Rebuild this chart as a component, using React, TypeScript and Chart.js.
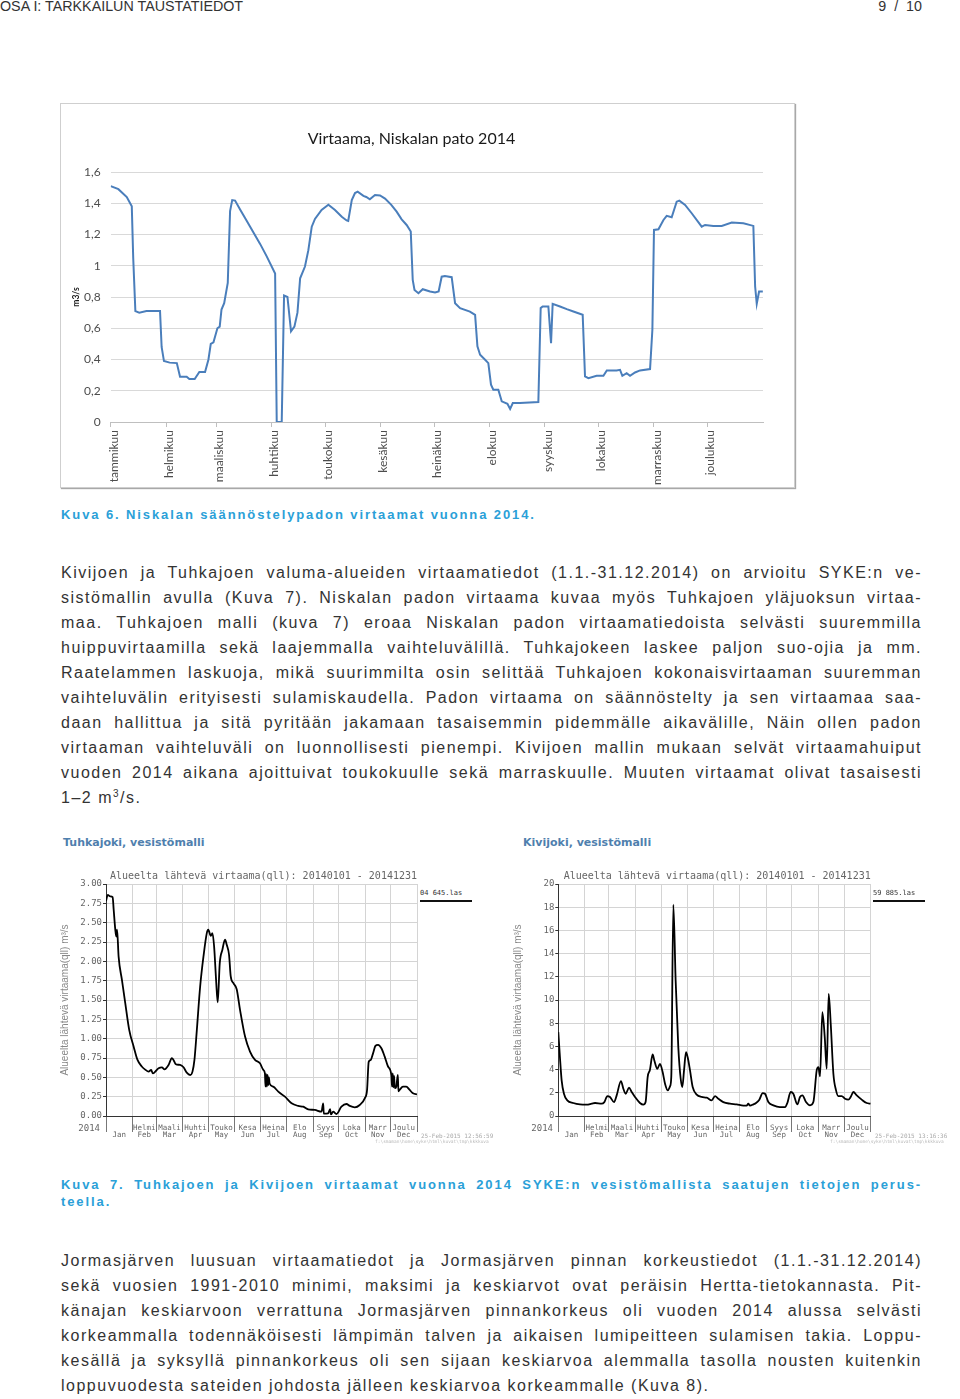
import React, { useEffect, useRef } from "react";
import { Chart, registerables } from "chart.js";

Chart.register(...registerables);

// ---------------- data: main chart (Niskala) ----------------
const NISKALA_TITLE = "Virtaama, Niskalan pato 2014";
const NISKALA_Y_TITLE = "m3/s";
const MONTHS_FI = ["tammikuu", "helmikuu", "maaliskuu", "huhtikuu", "toukokuu", "kesäkuu", "heinäkuu", "elokuu", "syyskuu", "lokakuu", "marraskuu", "joulukuu"];
const MONTH_START_DAY = [0, 31, 59, 90, 120, 151, 181, 212, 243, 273, 304, 334];

const niskalaDay = [
  0, 4.3, 9, 11.8, 12.6, 13.8, 16, 20, 27.6, 28.5,
  29.8, 33, 37, 38.8, 42.5, 44, 47, 49.6, 52.8, 54.7,
  56, 57.5, 59.7, 61, 62, 63.5, 65.5, 66.8, 68, 69.6,
  72.4, 76, 83.6, 87.3, 92, 92.9, 95.7, 97, 98.9, 100.9,
  102.8, 104.5, 106, 108.7, 110.6, 112.5, 114.3, 118, 121.8, 125.5,
  129.3, 132, 132.9, 134.9, 136.7, 138.2, 141.4, 143, 145, 147.9,
  150.7, 153.5, 157, 160, 162.8, 165.6, 167.9, 169, 170, 172.2,
  174.6, 178.7, 181.5, 183.5, 185.2, 187, 190.8, 192.7, 195.5, 201,
  203.9, 205.2, 206.7, 209.5, 211.3, 212.8, 214.1, 216.9, 218.8, 222,
  223.5, 225, 229, 239.3, 240.6, 241.7, 244.9, 246.4, 247.3, 251.4,
  255.2, 258.9, 264.1, 265.4, 267.3, 271.9, 275.7, 277.6, 283.1, 285,
  286.3, 288.7, 290.6, 293.4, 296.2, 301.8, 303.1, 304, 306.5, 309.3,
  311.1, 313.9, 316.7, 318.2, 321.4, 325.1, 330.7, 332.6, 337.2, 341.9,
  347.5, 354, 359.6, 360.6, 361.5, 362.8, 364.9,
];
const niskalaFlow = [
  1.51, 1.49, 1.44, 1.38, 1.05, 0.71, 0.70, 0.71, 0.71, 0.48,
  0.39, 0.38, 0.377, 0.29, 0.29, 0.275, 0.275, 0.32, 0.32, 0.40,
  0.50, 0.51, 0.60, 0.61, 0.72, 0.76, 0.89, 1.35, 1.42, 1.417,
  1.36, 1.29, 1.14, 1.06, 0.95, 0, 0, 0.81, 0.80, 0.58,
  0.61, 0.70, 0.92, 0.995, 1.10, 1.25, 1.30, 1.357, 1.39, 1.357,
  1.314, 1.29, 1.287, 1.42, 1.465, 1.474, 1.447, 1.44, 1.425, 1.453,
  1.45, 1.43, 1.39, 1.346, 1.297, 1.261, 1.219, 0.91, 0.845, 0.824,
  0.85, 0.835, 0.829, 0.835, 0.93, 0.935, 0.927, 0.76, 0.729, 0.707,
  0.686, 0.484, 0.43, 0.398, 0.377, 0.239, 0.207, 0.207, 0.132, 0.117,
  0.083, 0.121, 0.121, 0.128, 0.729, 0.739, 0.739, 0.505, 0.756, 0.739,
  0.722, 0.707, 0.686, 0.292, 0.281, 0.296, 0.296, 0.33, 0.33, 0.334,
  0.296, 0.313, 0.296, 0.317, 0.33, 0.339, 0.59, 1.229, 1.233, 1.293,
  1.319, 1.31, 1.41, 1.417, 1.389, 1.336, 1.25, 1.261, 1.255, 1.255,
  1.276, 1.272, 1.255, 0.867, 0.756, 0.835, 0.835,
];

// ---------------- data: SYKE model charts ----------------
const SYKE_TITLE = "Alueelta lähtevä virtaama(qll): 20140101 - 20141231";
const SYKE_Y_TITLE = "Alueelta lähtevä virtaama(qll) m³/s";
const SYKE_MONTH_FI = ["", "Helmi", "Maali", "Huhti", "Touko", "Kesa", "Heina", "Elo", "Syys", "Loka", "Marr", "Joulu"];
const SYKE_MONTH_EN = ["Jan", "Feb", "Mar", "Apr", "May", "Jun", "Jul", "Aug", "Sep", "Oct", "Nov", "Dec"];
const MID_MONTH_DAY = [15.5, 45, 74.5, 105, 135.5, 166, 196.5, 227.5, 258, 288.5, 319, 349.5];
const YEAR_END_DAY = 365;

const tuhkaDay = [
  0, 2, 5, 7.8, 9, 10.9, 12.1, 13, 14.8, 18.7,
  22.6, 27.3, 32.4, 37, 42, 46, 50, 53, 55, 57.8,
  61.7, 65.6, 68.7, 73.4, 77.3, 79.2, 82, 87, 91, 94.8,
  98.8, 101.5, 103.8, 106.6, 110.5, 114.4, 118.3, 120, 123, 124.9,
  126.9, 129.2, 131.1, 133.5, 136.6, 139.7, 141.7, 144.4, 146.4, 149.5,
  153.4, 157.3, 163.2, 169, 174.9, 180.7, 184.6, 186.5, 187.2, 188,
  188.8, 189.6, 190.4, 191.2, 192, 196.3, 202.2, 210, 217.8, 225.6,
  231.5, 237.3, 245.1, 252.9, 254.9, 255.6, 260.7, 263, 264, 266.6,
  270.5, 276.3, 282.2, 286.1, 292, 297.8, 303.7, 306.4, 308.3, 310.7,
  313.4, 316.2, 319.3, 323.2, 327.1, 331, 334.9, 335.7, 336.5, 337.3,
  338.1, 339, 340.7, 342.5, 343.2, 344.6, 348.5, 352.4, 356.4, 360.3,
  365,
];
const tuhkaFlow = [
  2.78, 2.86, 2.84, 2.83, 2.67, 2.41, 2.32, 2.41, 2.06, 1.76,
  1.46, 1.11, 0.90, 0.725, 0.64, 0.60, 0.574, 0.596, 0.55, 0.574,
  0.617, 0.63, 0.604, 0.66, 0.747, 0.725, 0.67, 0.66, 0.63, 0.56,
  0.53, 0.574, 0.725, 1.11, 1.675, 2.063, 2.365, 2.41, 2.33, 2.365,
  2.19, 1.76, 1.468, 1.977, 2.15, 2.28, 2.214, 2.085, 1.804, 1.718,
  1.64, 1.373, 1.027, 0.833, 0.725, 0.682, 0.596, 0.55, 0.38, 0.54,
  0.38, 0.53, 0.40, 0.50, 0.42, 0.38, 0.315, 0.25, 0.164, 0.13,
  0.12, 0.086, 0.078, 0.056, 0.164, 0.03, 0.035, 0.09, 0.02, 0.056,
  0.026, 0.12, 0.155, 0.13, 0.112, 0.142, 0.229, 0.337, 0.70, 0.725,
  0.81, 0.906, 0.92, 0.876, 0.768, 0.64, 0.53, 0.38, 0.55, 0.37,
  0.52, 0.36, 0.38, 0.53, 0.32, 0.337, 0.38, 0.38, 0.337, 0.293,
  0.28,
];

const kiviDay = [
  0, 1.9, 3.9, 6.6, 10.5, 17.5, 25.3, 33.1, 39, 42.9,
  50.6, 53.8, 57.3, 60.4, 65.1, 68.2, 73.2, 76, 78.7, 82.6,
  85.7, 89.6, 95.4, 99.3, 102, 104.4, 107.1, 110.2, 112.2, 115.7,
  118.8, 121.9, 124.7, 127.8, 130.5, 132, 134.4, 137.1, 140.2, 143,
  144.9, 146.9, 149.2, 151.1, 153.9, 157, 161.7, 167.5, 173.4, 179.2,
  183.1, 187, 192.8, 200.6, 208.4, 216.2, 220, 222, 224, 227.9,
  231, 234.9, 238.8, 241.5, 245.4, 251.3, 259, 264.9, 267.6, 271.5,
  274.6, 279.3, 282.4, 285.2, 289.4, 294.1, 298, 301.9, 303.9, 305.8,
  308.5, 311.3, 313.6, 315.9, 318.3, 321.4, 324.5, 327.2, 331.1, 335,
  338.9, 341.6, 344.8, 348.7, 354.5, 360.3, 365,
];
const kiviFlow = [
  7.23, 5.08, 3.07, 1.92, 1.35, 1.12, 1.0, 0.98, 1.06, 1.12,
  1.06, 1.2, 1.72, 1.64, 1.2, 1.78, 3.01, 2.35, 1.92, 2.44,
  2.07, 1.64, 1.12, 0.98, 1.2, 3.36, 3.99, 5.31, 4.79, 4.07,
  4.5, 3.79, 2.78, 2.21, 2.55, 3.36, 18.22, 11.68, 5.94, 3.21,
  2.5, 3.93, 5.51, 5.08, 3.93, 2.5, 1.84, 1.64, 1.58, 1.35,
  1.72, 1.49, 1.2, 1.06, 1.0, 0.89, 0.89, 1.06, 0.89, 1.0,
  1.12, 1.41, 1.98, 1.92, 1.2, 0.92, 0.77, 0.77, 1.12, 2.07,
  1.92, 1.0, 1.64, 1.78, 1.2, 0.92, 1.2, 3.93, 4.22, 3.41,
  8.95, 6.8, 4.07, 10.53, 7.95, 3.64, 2.21, 1.72, 1.72, 1.49,
  1.41, 1.64, 2.07, 1.78, 1.41, 1.12, 1.06,
];

// ---------------- texts ----------------
const HEADER_LEFT = "OSA I: TARKKAILUN TAUSTATIEDOT";
const HEADER_RIGHT = "9 / 10";
const CAPTION_6 = "Kuva 6. Niskalan säännöstelypadon virtaamat vuonna 2014.";
const PARA_1 = [
  "Kivijoen ja Tuhkajoen valuma-alueiden virtaamatiedot (1.1.-31.12.2014) on arvioitu SYKE:n ve-",
  "sistömallin avulla (Kuva 7). Niskalan padon virtaama kuvaa myös Tuhkajoen yläjuoksun virtaa-",
  "maa. Tuhkajoen malli (kuva 7) eroaa Niskalan padon virtaamatiedoista selvästi suuremmilla",
  "huippuvirtaamilla sekä laajemmalla vaihteluvälillä. Tuhkajokeen laskee paljon suo-ojia ja mm.",
  "Raatelammen laskuoja, mikä suurimmilta osin selittää Tuhkajoen kokonaisvirtaaman suuremman",
  "vaihteluvälin erityisesti sulamiskaudella. Padon virtaama on säännöstelty ja sen virtaamaa saa-",
  "daan hallittua ja sitä pyritään jakamaan tasaisemmin pidemmälle aikavälille, Näin ollen padon",
  "virtaaman vaihteluväli on luonnollisesti pienempi. Kivijoen mallin mukaan selvät virtaamahuiput",
  "vuoden 2014 aikana ajoittuivat toukokuulle sekä marraskuulle. Muuten virtaamat olivat tasaisesti",
];
const CAPTION_7 = [
  "Kuva 7. Tuhkajoen ja Kivijoen virtaamat vuonna 2014 SYKE:n vesistömallista saatujen tietojen perus-",
  "teella.",
];
const PARA_2 = [
  "Jormasjärven luusuan virtaamatiedot ja Jormasjärven pinnan korkeustiedot (1.1.-31.12.2014)",
  "sekä vuosien 1991-2010 minimi, maksimi ja keskiarvot ovat peräisin Hertta-tietokannasta. Pit-",
  "känajan keskiarvoon verrattuna Jormasjärven pinnankorkeus oli vuoden 2014 alussa selvästi",
  "korkeammalla todennäköisesti lämpimän talven ja aikaisen lumipeitteen sulamisen takia. Loppu-",
  "kesällä ja syksyllä pinnankorkeus oli sen sijaan keskiarvoa alemmalla tasolla nousten kuitenkin",
  "loppuvuodesta sateiden johdosta jälleen keskiarvoa korkeammalle (Kuva 8).",
];

// ---------------- helpers ----------------
const toPoints = (xs: number[], ys: number[]) => xs.map((x, i) => ({ x, y: ys[i] }));

const SYKE_TICKS: { value: number; boundary: boolean; label: string[] }[] = (() => {
  const out: { value: number; boundary: boolean; label: string[] }[] = [];
  for (let m = 0; m < 12; m++) {
    out.push({ value: MONTH_START_DAY[m], boundary: true, label: [""] });
    out.push({ value: MID_MONTH_DAY[m], boundary: false, label: [SYKE_MONTH_FI[m], SYKE_MONTH_EN[m]] });
  }
  out.push({ value: YEAR_END_DAY, boundary: true, label: [""] });
  return out;
})();

const abs = (left: number, top: number, extra: React.CSSProperties = {}): React.CSSProperties => ({
  position: "absolute",
  left,
  top,
  margin: 0,
  ...extra,
});

// ---------------- main chart ----------------
function NiskalaChart() {
  const ref = useRef<HTMLCanvasElement>(null);
  useEffect(() => {
    const chart = new Chart(ref.current!, {
      type: "line",
      data: {
        datasets: [
          {
            data: toPoints(niskalaDay, niskalaFlow),
            borderColor: "#4a7ebb",
            borderWidth: 2,
            pointRadius: 0,
            tension: 0,
            fill: false,
          },
        ],
      },
      options: {
        animation: false,
        responsive: false,
        maintainAspectRatio: false,
        layout: { padding: { left: 0, right: 32, top: 0, bottom: 0 } },
        plugins: {
          legend: { display: false },
          tooltip: { enabled: false },
          title: {
            display: true,
            text: NISKALA_TITLE,
            color: "#1a1a1a",
            font: { family: "Lato", size: 16, weight: "normal" },
            padding: { top: 26, bottom: 23.8 },
          },
        },
        scales: {
          x: {
            type: "linear",
            min: 0,
            max: YEAR_END_DAY,
            afterBuildTicks: (s: any) => {
              s.ticks = MONTH_START_DAY.map((v) => ({ value: v }));
            },
            afterFit: (s: any) => {
              s.height = 66;
            },
            ticks: {
              autoSkip: false,
              minRotation: 90,
              maxRotation: 90,
              labelOffset: 3,
              padding: 3,
              color: "#4d4d4d",
              font: { family: "Lato", size: 12 },
              callback: (_v: any, i: number) => MONTHS_FI[i],
            },
            grid: { drawOnChartArea: false, drawTicks: true, tickLength: 5, tickColor: "#bfbfbf" },
            border: { display: true, color: "#bfbfbf", width: 1 },
          },
          y: {
            min: 0,
            max: 1.6,
            afterFit: (s: any) => {
              s.width = 50.7;
            },
            ticks: {
              stepSize: 0.2,
              padding: 10,
              color: "#4d4d4d",
              font: { family: "Lato", size: 12 },
              callback: (v: any) => String(Math.round(Number(v) * 10) / 10).replace(".", ","),
            },
            grid: { color: "#d9d9d9", drawTicks: false, lineWidth: 1 },
            border: { display: false },
            title: {
              display: true,
              text: NISKALA_Y_TITLE,
              color: "#1a1a1a",
              font: { family: "Lato", size: 8.5, weight: "bold" },
              padding: { top: 11, bottom: 0 },
            },
          },
        },
      },
    } as any);
    return () => chart.destroy();
  }, []);
  return <canvas ref={ref} width={735} height={385} style={abs(60, 103, { width: 735, height: 385 })} />;
}

// ---------------- SYKE charts ----------------
type SykeProps = {
  left: number;
  top: number;
  width: number;
  height: number;
  yAxisWidth: number;
  rightPad: number;
  yTitlePad: number;
  days: number[];
  flow: number[];
  yMax: number;
  yStep: number;
  decimals: number;
};

function SykeChart(p: SykeProps) {
  const ref = useRef<HTMLCanvasElement>(null);
  useEffect(() => {
    const chart = new Chart(ref.current!, {
      type: "line",
      data: {
        datasets: [
          {
            data: toPoints(p.days, p.flow),
            borderColor: "#000",
            borderWidth: 1.8,
            pointRadius: 0,
            cubicInterpolationMode: "monotone",
            fill: false,
          },
        ],
      },
      options: {
        animation: false,
        responsive: false,
        maintainAspectRatio: false,
        layout: { padding: { left: 0, right: p.rightPad, top: 0, bottom: 0 } },
        plugins: {
          legend: { display: false },
          tooltip: { enabled: false },
          title: {
            display: true,
            text: SYKE_TITLE,
            align: "end",
            color: "#666",
            font: { family: "DejaVu Sans Mono", size: 10, weight: "normal", lineHeight: 1.2 },
            padding: { top: 8.7, bottom: 1.3 },
          },
        },
        scales: {
          x: {
            type: "linear",
            min: 0,
            max: YEAR_END_DAY,
            afterBuildTicks: (s: any) => {
              s.ticks = SYKE_TICKS.map((t) => ({ value: t.value }));
            },
            afterFit: (s: any) => {
              s.height = 31;
            },
            ticks: {
              autoSkip: false,
              minRotation: 0,
              maxRotation: 0,
              padding: -8,
              color: "#666",
              font: { family: "DejaVu Sans Mono", size: 7.5, lineHeight: 0.97 },
              callback: (_v: any, i: number) => SYKE_TICKS[i].label,
            },
            grid: {
              color: (c: any) => (SYKE_TICKS[c.index] && SYKE_TICKS[c.index].boundary ? "#d4d4d4" : "rgba(0,0,0,0)"),
              tickColor: (c: any) => (SYKE_TICKS[c.index] && SYKE_TICKS[c.index].boundary ? "#777" : "rgba(0,0,0,0)"),
              tickLength: 16,
              lineWidth: 1,
            },
            border: { display: true, color: "#333", width: 1 },
          },
          y: {
            min: 0,
            max: p.yMax,
            afterFit: (s: any) => {
              s.width = p.yAxisWidth;
            },
            ticks: {
              stepSize: p.yStep,
              padding: 1,
              color: "#666",
              font: { family: "DejaVu Sans Mono", size: 9 },
              callback: (v: any) => Number(v).toFixed(p.decimals),
            },
            grid: { color: "#d4d4d4", tickColor: "#333", tickLength: 3, lineWidth: 1 },
            border: { display: true, color: "#333", width: 1 },
            title: {
              display: true,
              text: SYKE_Y_TITLE,
              color: "#888",
              font: { family: "Liberation Sans", size: 10, weight: "normal" },
              padding: { top: p.yTitlePad, bottom: 0 },
            },
          },
        },
      },
    } as any);
    return () => chart.destroy();
  }, []);
  return (
    <canvas
      ref={ref}
      width={p.width}
      height={p.height}
      style={abs(p.left, p.top, { width: p.width, height: p.height })}
    />
  );
}

// ---------------- text blocks ----------------
const bodyFont: React.CSSProperties = {
  fontFamily: "'Liberation Sans', Arial, sans-serif",
  fontSize: 16,
  letterSpacing: "1.5px",
  color: "#333",
  whiteSpace: "nowrap",
};

const captionFont: React.CSSProperties = {
  fontFamily: "'Liberation Sans', Arial, sans-serif",
  fontSize: 13,
  fontWeight: "bold",
  letterSpacing: "1.9px",
  color: "#2aa0d8",
  whiteSpace: "nowrap",
};

function Lines({
  lines,
  top0,
  lh,
  style,
  justifyLast,
}: {
  lines: React.ReactNode[];
  top0: number;
  lh: number;
  style: React.CSSProperties;
  justifyLast: boolean;
}) {
  return (
    <>
      {lines.map((t, i) => {
        const justify = i < lines.length - 1 || justifyLast;
        return (
          <div
            key={i}
            style={abs(61, top0 + i * lh, {
              ...style,
              width: 861,
              height: lh,
              lineHeight: lh + "px",
              textAlign: justify ? "justify" : "left",
              textAlignLast: justify ? "justify" : "left",
            } as React.CSSProperties)}
          >
            {t}
          </div>
        );
      })}
    </>
  );
}

const smallMono: React.CSSProperties = {
  fontFamily: "'DejaVu Sans Mono', monospace",
  whiteSpace: "nowrap",
};

const sykeHeading: React.CSSProperties = {
  fontFamily: "'DejaVu Sans', Verdana, sans-serif",
  fontWeight: "bold",
  fontSize: 11,
  lineHeight: "14px",
  color: "#4f7fae",
  whiteSpace: "nowrap",
};

export default function App() {
  useEffect(() => {
    document.body.style.margin = "0";
  }, []);

  const para1Nodes: React.ReactNode[] = [
    ...PARA_1,
    <span key="last">
      1–2 m<sup style={{ fontSize: 10, verticalAlign: "6px", lineHeight: 0 }}>3</sup>/s.
    </span>,
  ];

  const headerFont: React.CSSProperties = {
    fontFamily: "'Liberation Sans', Arial, sans-serif",
    fontSize: 14.3,
    lineHeight: "13px",
    color: "#333",
    whiteSpace: "pre",
  };

  return (
    <div style={{ position: "relative", width: 960, height: 1399, background: "#fff", overflow: "hidden" }}>
      {/* header */}
      <div style={abs(0, 0, headerFont)}>{HEADER_LEFT}</div>
      <div style={abs(852, 0, { ...headerFont, width: 70, textAlign: "right", wordSpacing: "4px" })}>{HEADER_RIGHT}</div>

      {/* main chart frame */}
      <div
        style={abs(60, 103, {
          width: 735,
          height: 385,
          boxSizing: "border-box",
          border: "1px solid #cfcfcf",
          boxShadow: "1px 1px 1px #a8a8a8",
          background: "#fff",
        })}
      />
      <NiskalaChart />

      {/* caption 6 */}
      <div style={abs(61, 505.5, { ...captionFont, lineHeight: "17px" })}>{CAPTION_6}</div>

      {/* paragraph 1 */}
      <Lines lines={para1Nodes} top0={559.5} lh={25} style={bodyFont} justifyLast={false} />

      {/* SYKE chart headings */}
      <div style={abs(63, 836, sykeHeading)}>Tuhkajoki, vesistömalli</div>
      <div style={abs(523, 836, sykeHeading)}>Kivijoki, vesistömalli</div>

      <SykeChart left={55} top={862} width={363} height={285} yAxisWidth={51} rightPad={1} yTitlePad={4} days={tuhkaDay} flow={tuhkaFlow} yMax={3} yStep={0.25} decimals={2} />
      <SykeChart left={510} top={862} width={362} height={285} yAxisWidth={48.3} rightPad={1.3} yTitlePad={2.3} days={kiviDay} flow={kiviFlow} yMax={20} yStep={2} decimals={0} />

      {/* SYKE extras: year, legend, timestamps */}
      <div style={abs(60, 1122.5, { ...smallMono, width: 40, textAlign: "right", fontSize: 9, lineHeight: "10px", color: "#666" })}>2014</div>
      <div style={abs(513, 1122.5, { ...smallMono, width: 40, textAlign: "right", fontSize: 9, lineHeight: "10px", color: "#666" })}>2014</div>

      <div style={abs(420, 889, { ...smallMono, fontSize: 7, lineHeight: "9px", color: "#333" })}>04 645.las</div>
      <div style={abs(420, 900, { width: 52, height: 2, background: "#111" })} />
      <div style={abs(873, 889, { ...smallMono, fontSize: 7, lineHeight: "9px", color: "#333" })}>59 885.las</div>
      <div style={abs(873, 900, { width: 52, height: 2, background: "#111" })} />

      <div style={abs(421, 1132, { ...smallMono, fontSize: 6, lineHeight: "7px", color: "#aaa" })}>25-Feb-2015 12:56:59</div>
      <div style={abs(375, 1139, { ...smallMono, fontSize: 4.5, lineHeight: "5px", color: "#bbb" })}>f:\smaman\home\syke\html\kuvat\tmp\kkkkuva</div>
      <div style={abs(875, 1132, { ...smallMono, fontSize: 6, lineHeight: "7px", color: "#aaa" })}>25-Feb-2015 13:16:36</div>
      <div style={abs(830, 1139, { ...smallMono, fontSize: 4.5, lineHeight: "5px", color: "#bbb" })}>f:\smaman\home\syke\html\kuvat\tmp\kkkkuva</div>

      {/* caption 7 */}
      <Lines lines={CAPTION_7} top0={1175.5} lh={17} style={captionFont} justifyLast={false} />

      {/* paragraph 2 */}
      <Lines lines={PARA_2} top0={1247.5} lh={25} style={bodyFont} justifyLast={false} />
    </div>
  );
}
